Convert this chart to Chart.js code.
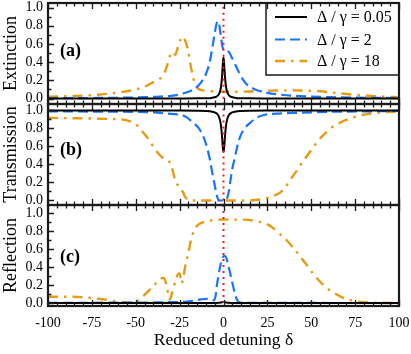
<!DOCTYPE html>
<html><head><meta charset="utf-8">
<script src="https://cdn.jsdelivr.net/npm/chart.js@4"></script>
<style>
html,body{margin:0;padding:0;background:#fff;}
#wrap{position:relative;width:411px;height:354px;overflow:hidden;background:#fff;}
.pane{position:absolute;left:0;width:411px;}
</style></head><body>
<div id="wrap">
<div class="pane" style="top:0;height:106px"><canvas id="cA"></canvas></div>
<div class="pane" style="top:102px;height:105px"><canvas id="cB"></canvas></div>
<div class="pane" style="top:203px;height:151px"><canvas id="cC"></canvas></div>
</div>
<script>
// ---- tick labels ----
const xTickVals = [-100,-75,-50,-25,0,25,50,75,100];
const yTickVals = [0,0.2,0.4,0.6,0.8,1.0];
const seriesLabels = ['Δ / γ = 0.05','Δ / γ = 2','Δ / γ = 18'];
const panelTitles = ['Extinction','Transmission','Reflection'];
const panelTags = ['(a)','(b)','(c)'];

// ---- resonance marker (delta = 0) ----
const markX = [0,0];
const markY = [-0.2,1.2];

// ---- Delta/gamma = 0.05 ----
const blackX = [-100,-50,-25,-15,-10,-7,-5,-4,-3,-2.5,-2,-1.5,-1,-0.6,-0.3,0,0.3,0.6,1,1.5,2,2.5,3,4,5,7,10,15,25,50,100];
const extBlack = [0,0,0.001,0.002,0.004,0.007,0.014,0.022,0.037,0.052,0.076,0.119,0.202,0.312,0.405,0.45,0.405,0.312,0.202,0.119,0.076,0.052,0.037,0.022,0.014,0.007,0.004,0.002,0.001,0,0];
const traBlack = [1,1,0.999,0.997,0.994,0.989,0.979,0.968,0.946,0.925,0.893,0.839,0.748,0.645,0.572,0.54,0.572,0.645,0.748,0.839,0.893,0.925,0.946,0.968,0.979,0.989,0.994,0.997,0.999,1,1];
const refBlack = [0,0,0,0,0,0,0.001,0.001,0.002,0.003,0.004,0.006,0.008,0.01,0.011,0.012,0.011,0.01,0.008,0.006,0.004,0.003,0.002,0.001,0.001,0,0,0,0,0,0];

// ---- Delta/gamma = 2 ----
const blueExtX = [-100,-75,-50,-40,-30,-25,-20,-17,-14,-12,-10,-8,-6,-5,-4,-3.3,-2.5,-1.5,-0.5,0.5,1.5,2.5,3.5,4.5,5.5,7,9,11,13,15,18,22,25,30,40,50,60,75,100];
const blueExtY = [0.003,0.006,0.012,0.018,0.03,0.045,0.075,0.1,0.15,0.2,0.27,0.39,0.6,0.72,0.82,0.85,0.82,0.68,0.56,0.53,0.53,0.52,0.5,0.46,0.42,0.36,0.28,0.21,0.16,0.13,0.1,0.075,0.062,0.048,0.03,0.022,0.016,0.01,0.005];
const blueTraX = [-100,-75,-50,-40,-30,-23,-17,-14,-11.5,-10,-9,-7.7,-6.5,-5.5,-4.8,-4,-3,-2,-1,0,1,2,3,3.7,5,6.6,8,9.5,12,15,19,23,30,43,60,80,100];
const blueTraY = [0.99,0.988,0.985,0.98,0.962,0.945,0.86,0.8,0.71,0.63,0.56,0.45,0.32,0.22,0.15,0.07,0.01,0,0,0,0,0.02,0.1,0.19,0.35,0.49,0.61,0.71,0.8,0.86,0.92,0.95,0.965,0.975,0.985,0.99,0.995];
const blueRefX = [-100,-50,-30,-21,-16,-13,-10,-8,-6.5,-5.5,-4.5,-3.9,-3,-2,-1,0,0.7,1.8,2.7,3.7,4.6,5.6,6.5,7.5,8.5,10,20,50,100];
const blueRefY = [0.003,0.005,0.01,0.015,0.03,0.04,0.047,0.045,0.035,0.03,0.08,0.18,0.29,0.4,0.48,0.52,0.525,0.49,0.42,0.34,0.26,0.18,0.1,0.045,0.015,0.005,0.002,0.001,0];

// ---- Delta/gamma = 18 ----
const orangeExtX = [-100,-90,-80,-70,-60,-50,-45,-40,-37,-35,-33.5,-32,-30.5,-29.5,-28.5,-27.5,-26.5,-25.5,-24.5,-23.5,-22.5,-21.5,-20.5,-19.5,-18.5,-17.5,-16.5,-15,-13,-10,-5,0,5,10,15,25,35,45,55,62,70,80,90,100];
const orangeExtY = [0.02,0.025,0.032,0.045,0.065,0.1,0.13,0.18,0.21,0.24,0.29,0.37,0.47,0.51,0.5,0.48,0.53,0.6,0.65,0.68,0.66,0.62,0.55,0.45,0.34,0.25,0.17,0.12,0.095,0.085,0.078,0.075,0.075,0.076,0.078,0.085,0.09,0.088,0.08,0.066,0.05,0.033,0.022,0.015];
const orangeTraX = [-100,-90,-80,-70,-60,-55,-51,-48,-46,-43,-40,-37,-34.3,-32,-30.5,-29.5,-28.5,-27.5,-26,-24.5,-23,-21.9,-20.5,-19,-15,0,10,18,22,26,30,32,35,38,41,44,47,50,53,56,60,63,67,72,77,82,90,100];
const orangeTraY = [0.92,0.915,0.912,0.908,0.903,0.89,0.86,0.81,0.76,0.69,0.6,0.52,0.47,0.45,0.42,0.37,0.3,0.22,0.17,0.13,0.09,0.04,0.015,0.003,0,0,0,0.005,0.015,0.035,0.065,0.085,0.14,0.23,0.31,0.4,0.48,0.56,0.64,0.71,0.78,0.83,0.87,0.91,0.94,0.96,0.978,0.99];
const orangeRefX = [-100,-90,-80,-75,-70,-65,-60,-55,-52,-50,-48,-45,-42,-39,-36,-34,-32.5,-31.5,-30.5,-29.5,-28.5,-27.5,-26,-25,-23.8,-22.8,-21.9,-21,-20,-19,-18,-17,-15.5,-14,-11,-7,0,7,12,18,24,28,32,36,40,44,48,51,54,57,60,64,68,74,80,90,100];
const orangeRefY = [0.07,0.07,0.065,0.055,0.045,0.03,0.015,0.005,0.003,0.01,0.04,0.09,0.15,0.21,0.27,0.28,0.2,0.1,0.04,0.1,0.17,0.24,0.32,0.33,0.22,0.3,0.4,0.48,0.56,0.66,0.74,0.8,0.85,0.88,0.905,0.92,0.93,0.93,0.93,0.915,0.885,0.84,0.77,0.7,0.61,0.51,0.41,0.33,0.26,0.2,0.15,0.1,0.06,0.025,0.01,0.003,0.002];

// ---- styles ----
const SERIF = "'Liberation Serif','DejaVu Serif',serif";
const INK = '#1a1a1a';
const styles = [
  {color:'#000000', dash:[], width:2},
  {color:'#1a74ff', dash:[10,5], width:2.2},
  {color:'#e69b12', dash:[10,6,2.5,6], width:2.4}
];

function pts(xs, ys){ return xs.map((x,i)=>({x:x, y:ys[i]})); }

const framePlugin = {
  id:'frame',
  afterDraw(chart, args, opts){
    const {ctx, chartArea:a, scales:{x, y}} = chart;
    ctx.save();
    ctx.strokeStyle = INK;
    ctx.lineWidth = 1.3;
    ctx.setLineDash([]);
    ctx.beginPath();
    for (let v = -100; v <= 100; v += 5) {
      const px = Math.round(x.getPixelForValue(v)) + 0.5;
      const L = (v % 25 === 0) ? 6 : 3.5;
      ctx.moveTo(px, a.top); ctx.lineTo(px, a.top + L);
      ctx.moveTo(px, a.bottom); ctx.lineTo(px, a.bottom - L);
    }
    for (let k = 0; k <= 10; k++) {
      const v = k / 10;
      const py = Math.round(y.getPixelForValue(v)) + 0.5;
      const L = (k % 2 === 0) ? 6 : 3.5;
      ctx.moveTo(a.left, py); ctx.lineTo(a.left + L, py);
    }
    ctx.stroke();
    ctx.lineWidth = 2.2;
    ctx.strokeRect(a.left, a.top, a.right - a.left, a.bottom - a.top);
    if (opts.tag) {
      ctx.fillStyle = '#000';
      ctx.font = 'bold 18px ' + SERIF;
      ctx.textBaseline = 'middle';
      ctx.textAlign = 'left';
      ctx.fillText(opts.tag, a.left + 12, a.top + opts.tagY);
    }
    if (opts.legend) {
      const w = 133, h = 72;
      const lx = a.right - w, ty = a.top;
      ctx.lineWidth = 1.5;
      ctx.strokeRect(lx, ty, w, h);
      const rows = [14, 36.5, 58];
      const ds = chart.data.datasets;
      for (let i = 0; i < 3; i++) {
        const d = ds[i + 1];
        const yy = ty + rows[i];
        ctx.strokeStyle = d.borderColor;
        ctx.lineWidth = d.borderWidth;
        ctx.setLineDash(d.borderDash || []);
        ctx.beginPath();
        ctx.moveTo(lx + 9, yy); ctx.lineTo(lx + 41, yy);
        ctx.stroke();
        ctx.setLineDash([]);
        ctx.fillStyle = '#000';
        ctx.font = '16px ' + SERIF;
        ctx.textBaseline = 'middle';
        ctx.textAlign = 'left';
        ctx.fillText(d.label, lx + 51, yy + 1);
      }
      ctx.strokeStyle = INK;
    }
    ctx.restore();
  }
};

function noPad(s){ s.paddingTop = 0; s.paddingBottom = 0; s.paddingLeft = 0; s.paddingRight = 0; }

function makeChart(id, idx, series, yMin, yMax, pad, showX, tagY, legend){
  const datasets = [
    {label:'mark', data:pts(markX, markY), borderColor:'#ff1a1a', borderWidth:2, borderDash:[2,4], pointRadius:0, order:0}
  ];
  series.forEach((s, i) => {
    datasets.push({label:seriesLabels[i], data:pts(s[0], s[1]), borderColor:styles[i].color,
      borderDash:styles[i].dash, borderWidth:styles[i].width, pointRadius:0, cubicInterpolationMode:'monotone',
      fill:false, order:i + 1});
  });
  const xScale = {
    type:'linear', min:-100, max:100, display:showX,
    afterBuildTicks: s => { s.ticks = xTickVals.map(v => ({value:v})); },
    afterFit: s => { noPad(s); if (showX) s.height = 48; },
    grid:{display:false, drawTicks:false}, border:{display:false},
    ticks:{font:{family:SERIF, size:14}, color:'#000', padding:9, maxRotation:0, autoSkip:false},
    title:{display:showX, text:'Reduced detuning δ', font:{family:SERIF, size:17.5}, color:'#000', padding:{top:0, bottom:3}}
  };
  return new Chart(document.getElementById(id), {
    type:'line',
    data:{datasets},
    options:{
      responsive:true, maintainAspectRatio:false, animation:false,
      layout:{padding:{left:0, right:12, top:pad[0], bottom:pad[1]}},
      plugins:{legend:{display:false}, tooltip:{enabled:false},
        frame:{tag:panelTags[idx], tagY:tagY, legend:legend}},
      scales:{
        x:xScale,
        y:{min:yMin, max:yMax,
          afterBuildTicks: s => { s.ticks = yTickVals.map(v => ({value:v})); },
          afterFit: s => { s.width = 48; noPad(s); },
          grid:{display:false, drawTicks:false}, border:{display:false},
          ticks:{font:{family:SERIF, size:14}, color:'#000', padding:5, autoSkip:false,
            callback: v => Number(v).toFixed(1)},
          title:{display:true, text:panelTitles[idx], font:{family:SERIF, size:18}, color:'#000', padding:{top:0, bottom:0}}
        }
      }
    },
    plugins:[framePlugin]
  });
}

makeChart('cA', 0, [[blackX, extBlack],[blueExtX, blueExtY],[orangeExtX, orangeExtY]], -0.06, 1.05, [3,2], false, 48, true);
makeChart('cB', 1, [[blackX, traBlack],[blueTraX, blueTraY],[orangeTraX, orangeTraY]], -0.05, 1.072, [2,2], false, 46, false);
makeChart('cC', 2, [[blackX, refBlack],[blueRefX, blueRefY],[orangeRefX, orangeRefY]], -0.033, 1.093, [2,0], true, 52, false);
</script>
</body></html>
